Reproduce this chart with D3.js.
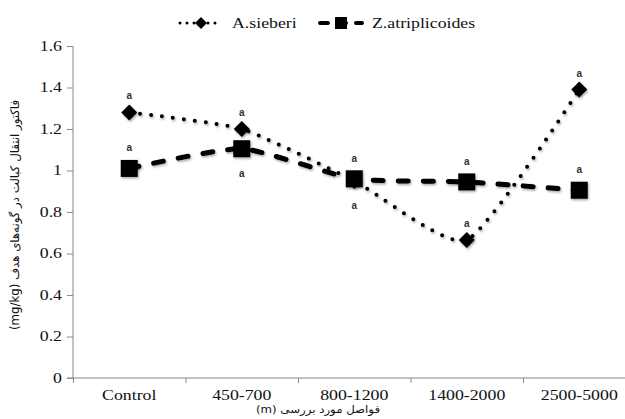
<!DOCTYPE html>
<html>
<head>
<meta charset="utf-8">
<script src="https://cdn.jsdelivr.net/npm/d3@7"></script>
<style>
  body { margin: 0; background: #fff; }
  svg { display: block; }
</style>
</head>
<body>
<div id="chart"></div>
<script>
// data
const categories = ['Control', '450-700', '800-1200', '1400-2000', '2500-5000'];
const sieberiValues = [1.28, 1.2, 0.95, 0.665, 1.39];
const atriplicoidesValues = [1.01, 1.105, 0.96, 0.945, 0.905];
const sieberiLetters = ['a', 'a', 'a', 'a', 'a'];
const atriplicoidesLetters = ['a', 'a', 'a', 'a', 'a'];
const sieberiLetterSide = ['above', 'above', 'below', 'above', 'above'];
const atriplicoidesLetterSide = ['above', 'below', 'above', 'above', 'above'];
const yTicks = [0, 0.2, 0.4, 0.6, 0.8, 1, 1.2, 1.4, 1.6];
const seriesNames = ['A.sieberi', 'Z.atriplicoides'];
const yTitle = 'فاکتور انتقال کبالت در گونه‌های هدف (mg/kg)';
const xTitle = 'فواصل مورد بررسی (m)';

const W = 625, H = 419;
const plotLeft = 73, plotRight = 635.5, plotTop = 46, plotBottom = 378;
const SX = 1.27; // the reference text is stretched sideways
const serif = "'Liberation Serif', 'Times New Roman', serif";
const axisGrey = '#8a8a8a';

const svg = d3.select('#chart').append('svg').attr('width', W).attr('height', H);

const defs = svg.append('defs');
const shadow = defs.append('filter').attr('id', 'shadow')
    .attr('x', '-50%').attr('y', '-50%').attr('width', '200%').attr('height', '200%');
shadow.append('feDropShadow').attr('dx', 1).attr('dy', 1.5)
    .attr('stdDeviation', 1.3).attr('flood-color', '#000').attr('flood-opacity', 0.35);

const x = d3.scaleBand().domain(categories).range([plotLeft, plotRight]);
const xEdge = d3.scaleLinear().domain([0, categories.length]).range([plotLeft, plotRight]);
const y = d3.scaleLinear().domain([0, 1.6]).range([plotBottom, plotTop]);
const cx = d => x(d) + x.bandwidth() / 2;

// Y axis
const yAxis = svg.append('g')
    .attr('transform', `translate(${plotLeft},0)`)
    .call(d3.axisLeft(y).tickValues(yTicks).tickSize(6).tickPadding(5)
        .tickFormat(d => d === 0 || d === 1 ? d3.format('d')(d) : d3.format('.1f')(d)));
yAxis.attr('font-family', null);
yAxis.select('.domain').attr('stroke', axisGrey).attr('d', `M0,${plotTop}V${plotBottom}`);
yAxis.selectAll('.tick line').attr('stroke', axisGrey);
yAxis.selectAll('.tick text')
    .style('font-family', serif).style('font-size', '14px').attr('fill', '#111')
    .attr('transform', function () {
        const xx = +d3.select(this).attr('x');
        return `translate(${xx},0) scale(${SX},1) translate(${-xx},0)`;
    });

// X axis: ticks at band edges, labels centred in bands
const xAxis = svg.append('g')
    .attr('transform', `translate(0,${plotBottom})`)
    .call(d3.axisBottom(xEdge).tickValues(d3.range(categories.length + 1)).tickSize(5).tickFormat(''));
xAxis.select('.domain').attr('stroke', axisGrey).attr('d', `M${plotLeft - 6},0H${plotRight}`);
xAxis.selectAll('.tick line').attr('stroke', axisGrey);

const xLabels = svg.append('g')
    .attr('transform', `translate(0,${plotBottom})`)
    .call(d3.axisBottom(x).tickSize(0).tickPadding(12));
xLabels.attr('font-family', null);
xLabels.select('.domain').remove();
xLabels.selectAll('.tick text')
    .style('font-family', serif).style('font-size', '14px').attr('fill', '#111')
    .attr('transform', `scale(${SX},1)`)
    .attr('x', 0);

// axis titles
svg.append('text')
    .attr('transform', 'translate(19,215) rotate(-90)')
    .attr('text-anchor', 'middle')
    .attr('direction', 'rtl')
    .style('font-family', "'DejaVu Sans', sans-serif")
    .style('font-size', '12px')
    .attr('textLength', 230).attr('lengthAdjust', 'spacingAndGlyphs')
    .attr('fill', '#111')
    .text(yTitle);

svg.append('text')
    .attr('x', 318).attr('y', 413)
    .attr('text-anchor', 'middle')
    .attr('direction', 'rtl')
    .style('font-family', "'DejaVu Sans', sans-serif")
    .style('font-size', '10.5px')
    .attr('textLength', 124).attr('lengthAdjust', 'spacingAndGlyphs')
    .attr('fill', '#111')
    .text(xTitle);

// series
const line = d3.line().x(d => cx(d.cat)).y(d => y(d.v)).curve(d3.curveCardinal.tension(0.45));
const toPoints = vals => categories.map((c, i) => ({ cat: c, v: vals[i] }));

const diamond = s => `M0,${-s}L${s},0L0,${s}L${-s},0Z`;
const square = s => `M${-s},${-s}H${s}V${s}H${-s}Z`;

const series = [
    { name: seriesNames[0], values: sieberiValues, letters: sieberiLetters, side: sieberiLetterSide,
      dash: '0,11', width: 4, marker: diamond, size: 8, above: 13 },
    { name: seriesNames[1], values: atriplicoidesValues, letters: atriplicoidesLetters, side: atriplicoidesLetterSide,
      dash: '10,15', width: 5, marker: square, size: 8.5, above: 17 }
];

series.forEach(s => {
    svg.append('path')
        .datum(toPoints(s.values))
        .attr('d', line)
        .attr('fill', 'none')
        .attr('stroke', '#000')
        .attr('stroke-width', s.width)
        .attr('stroke-linecap', 'round')
        .attr('stroke-dasharray', s.dash)
        .attr('filter', 'url(#shadow)');
});

series.forEach(s => {
    svg.append('g').selectAll('path')
        .data(toPoints(s.values))
        .join('path')
        .attr('transform', d => `translate(${cx(d.cat)},${y(d.v)})`)
        .attr('d', s.marker(s.size))
        .attr('fill', '#000')
        .attr('filter', 'url(#shadow)');
});

// significance letters
series.forEach(s => {
    svg.append('g').selectAll('text')
        .data(toPoints(s.values))
        .join('text')
        .attr('x', d => cx(d.cat))
        .attr('y', (d, i) => s.side[i] === 'above' ? y(d.v) - s.above : y(d.v) + 28)
        .attr('text-anchor', 'middle')
        .style('font-family', "'Liberation Sans', Arial, sans-serif")
        .style('font-weight', 'bold')
        .style('font-size', '10px')
        .attr('fill', '#333')
        .text((d, i) => s.letters[i]);
});

// legend
const legend = svg.append('g').attr('transform', 'translate(0,23)');
const legendItems = [
    { x0: 180, x1: 222, tx: 232, s: series[0], ms: 6 },
    { x0: 320, x1: 362, tx: 372, s: series[1], ms: 6 }
];
legendItems.forEach(it => {
    legend.append('line')
        .attr('x1', it.x0).attr('x2', it.x1)
        .attr('stroke', '#000')
        .attr('stroke-width', it.s.width - 1)
        .attr('stroke-linecap', 'round')
        .attr('stroke-dasharray', it.s === series[0] ? '0,7' : '8,10');
    legend.append('path')
        .attr('transform', `translate(${(it.x0 + it.x1) / 2},0)`)
        .attr('d', it.s.marker(it.ms))
        .attr('fill', '#000');
    legend.append('text')
        .attr('transform', `translate(${it.tx},5) scale(${SX},1)`)
        .style('font-family', serif).style('font-size', '14px').attr('fill', '#111')
        .text(it.s.name);
});
</script>
</body>
</html>
